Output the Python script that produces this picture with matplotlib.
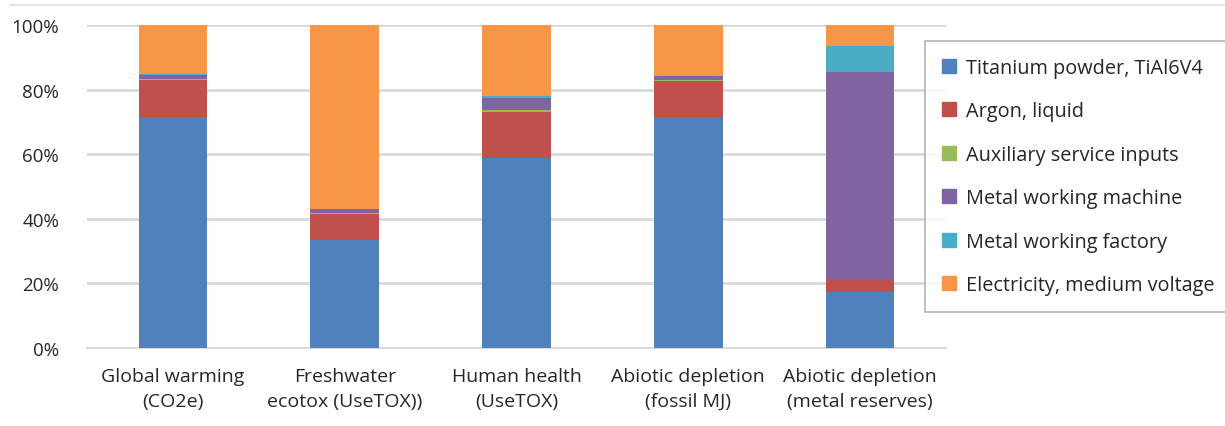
import matplotlib

matplotlib.use("Agg")

import matplotlib.pyplot as plt  # noqa: E402
import numpy as np  # noqa: E402
from matplotlib.lines import Line2D  # noqa: E402

plt.rcParams["font.family"] = ["Open Sans", "DejaVu Sans"]

categories = [
    "Global warming\n(CO2e)",
    "Freshwater\necotox (UseTOX))",
    "Human health\n(UseTOX)",
    "Abiotic depletion\n(fossil MJ)",
    "Abiotic depletion\n(metal reserves)",
]
series = [
    "Titanium powder, TiAl6V4",
    "Argon, liquid",
    "Auxiliary service inputs",
    "Metal working machine",
    "Metal working factory",
    "Electricity, medium voltage",
]
titanium = [71.5, 33.4, 58.8, 71.5, 17.3]
argon = [11.5, 8.1, 14.3, 11.3, 3.8]
auxiliary = [0.4, 0.4, 0.7, 0.1, 0.1]
machine = [1.0, 1.0, 3.6, 1.2, 64.2]
factory = [0.4, 0.2, 0.7, 0.1, 8.0]
electricity = [15.2, 56.9, 21.9, 15.8, 6.6]

colors = ["#4f81bd", "#c0504d", "#9bbb59", "#8064a2", "#4bacc6", "#f79646"]

fig = plt.figure(figsize=(12.25, 4.27), dpi=100)
ax = fig.add_axes([87 / 1225, 1 - 349 / 427, (946 - 87) / 1225, (349 - 26) / 427])

x = np.arange(len(categories))
bottom = np.zeros(len(categories))
for name, vals, col in zip(series, [titanium, argon, auxiliary, machine, factory, electricity], colors):
    ax.bar(x, vals, 0.4, bottom=bottom, color=col, label=name, zorder=3)
    bottom += np.array(vals)

ax.set_xlim(-0.5, len(categories) - 0.5)
ax.set_ylim(0, 100)
ax.set_yticks(range(0, 101, 20))
ax.set_yticklabels([f"{v}%" for v in range(0, 101, 20)], fontsize=13.5)
ax.set_xticks(x)
ax.set_xticklabels(categories, fontsize=14, linespacing=1.45)
ax.tick_params(axis="both", length=0, colors="#262626")
ax.tick_params(axis="y", pad=20)
ax.tick_params(axis="x", pad=14)
ax.grid(axis="y", color="#d9d9d9", linewidth=2, zorder=0)
for side in ["top", "right", "left"]:
    ax.spines[side].set_visible(False)
ax.spines["bottom"].set_color("#d9d9d9")
ax.spines["bottom"].set_linewidth(1.5)

handles = [plt.Rectangle((0, 0), 1, 1, color=c) for c in colors]
leg = fig.legend(
    handles,
    series,
    loc="upper left",
    bbox_to_anchor=(925 / 1225, 1 - 42 / 427),
    frameon=True,
    fancybox=False,
    edgecolor="#a0a0a0",
    fontsize=14.3,
    handlelength=0.7,
    handleheight=0.7,
    handletextpad=0.5,
    labelspacing=1.18,
    borderpad=0.85,
    borderaxespad=0,
)
leg.get_frame().set_linewidth(1.2)
for t in leg.get_texts():
    t.set_color("#262626")

fig.add_artist(Line2D([10 / 1225, 1], [1 - 6 / 427, 1 - 6 / 427], color="#e0e0e0", linewidth=1.2))

fig.savefig("out.png", dpi=100)
